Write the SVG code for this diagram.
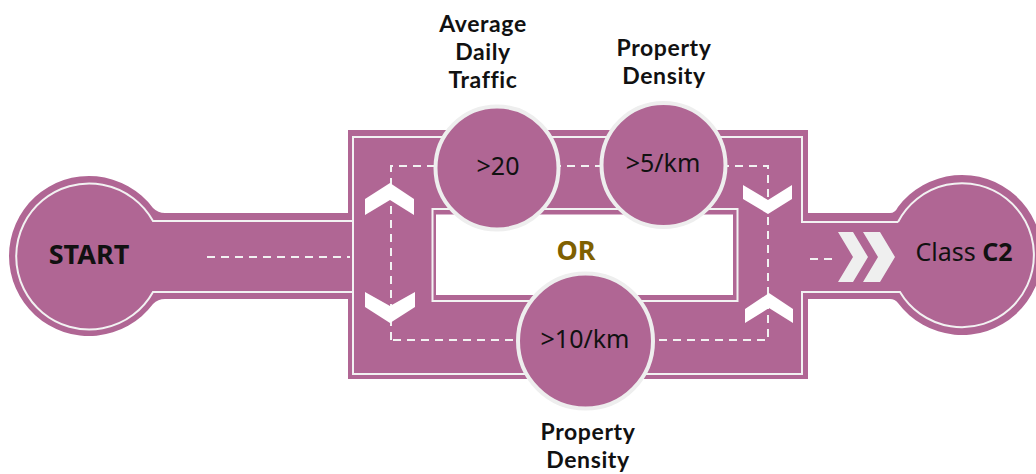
<svg xmlns="http://www.w3.org/2000/svg" width="1036" height="474" viewBox="0 0 1036 474">
  <style>
    .road { fill: #B06694; }
    .line { fill: none; stroke: #F2F2F2; stroke-width: 2; }
    .dash { fill: none; stroke: #F2F2F2; stroke-width: 2; stroke-dasharray: 8 6; }
    .chev { fill: #FFFFFF; }
    .arrow { fill: #EFEFEF; }
    .node { fill: #B06694; stroke: #EEEEEE; stroke-width: 4; }
    .t { font-family: "Noto Sans", "Liberation Sans", sans-serif; fill: #111111; text-anchor: middle; }
    .lbl { font-family: Lato, "Liberation Sans", sans-serif; font-size: 23px; font-weight: bold; letter-spacing: 0.6px; }
    .val { font-size: 25px; }
  </style>
  <rect width="1036" height="474" fill="#FFFFFF"/>
  <g id="roads">
    <path class="road" d="M 350 213 L 165 213 Q 158 213 153 208 A 80 80 0 1 0 153 304 Q 158 299 165 299 L 350 299 Z"/>
    <path class="road" d="M 806 213 L 890 213 Q 895 213 898 207 A 80 80 0 1 1 898 303 Q 895 299 890 299 L 806 299 Z"/>
    <rect class="road" x="348" y="130" width="460" height="249"/>
    <rect class="line" x="432.5" y="209" width="305" height="92"/>
    <rect x="436" y="214.5" width="297" height="80.5" fill="#FFFFFF"/>
    <path class="line" d="M 353 221 L 153 221 A 73 73 0 1 0 153 292 L 353 292"/>
    <path class="line" d="M 898 222 L 802 222 L 802 137 L 353 137 L 353 374 L 802 374 L 802 292 L 900 292 A 72 72 0 1 0 898 222"/>
  </g>
  <g id="connectors">
    <path class="dash" d="M 207 257 L 350 257"/>
    <path class="dash" d="M 391 340 L 391 166 L 768 166 L 768 340 Z"/>
    <path class="dash" d="M 810 259 L 836 259"/>
    <polygon class="chev" points="365,199 390,183 414,199 414,215 390,200 365,215"/>
    <polygon class="chev" points="365,292 390,306 415,292 415,307 390,323 365,307"/>
    <polygon class="chev" points="743,185 768,200 792,185 792,199 768,214 743,199"/>
    <polygon class="chev" points="745,309 769,293 793,309 793,323 769,308 745,323"/>
    <polygon class="arrow" points="838,232 853,232 868,257 853,282 838,282 853,257"/>
    <polygon class="arrow" points="863,232 880,232 895,257 880,282 863,282 878,257"/>
  </g>
  <g id="start">
    <text class="t" x="89" y="264" font-size="27" font-weight="bold">START</text>
  </g>
  <g id="end">
    <text class="t" x="964" y="261" font-size="25">Class <tspan font-weight="bold">C2</tspan></text>
  </g>
  <g id="or">
    <text class="t" x="576" y="260" font-size="27" font-weight="bold" style="fill:#7F6000">OR</text>
  </g>
  <g id="adt">
    <circle class="node" cx="497" cy="168" r="61.5"/>
    <text class="t val" x="498" y="175">&gt;20</text>
    <text class="t lbl" x="483" y="32">Average</text>
    <text class="t lbl" x="483" y="60">Daily</text>
    <text class="t lbl" x="483" y="88">Traffic</text>
  </g>
  <g id="pd5">
    <circle class="node" cx="663.5" cy="165" r="62"/>
    <text class="t val" x="663" y="172">&gt;5/km</text>
    <text class="t lbl" x="664" y="56">Property</text>
    <text class="t lbl" x="664" y="84">Density</text>
  </g>
  <g id="pd10">
    <circle class="node" cx="585.5" cy="341" r="67.5"/>
    <text class="t val" x="585" y="348">&gt;10/km</text>
    <text class="t lbl" x="588" y="440">Property</text>
    <text class="t lbl" x="588" y="468">Density</text>
  </g>
</svg>
